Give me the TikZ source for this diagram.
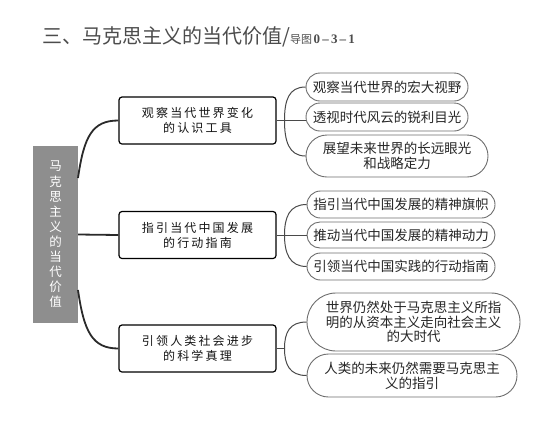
\documentclass[tikz,border=0pt]{standalone}
\usepackage{fontspec}
\usetikzlibrary{shapes.misc}
\newfontfamily\cjk{Noto Sans CJK SC}
\newfontfamily\cjkspaced[LetterSpace=18]{Noto Sans CJK SC}
\newfontfamily\serifb{Liberation Serif}[BoldFont={Liberation Serif Bold}]
\definecolor{linedark}{HTML}{2A2A2A}
\definecolor{pillborder}{HTML}{6E6E6E}
\definecolor{rootfill}{HTML}{8E8E8E}
\tikzset{
  rootbox/.style={draw=none, fill=rootfill, text=white, inner sep=0pt,
    minimum width=45pt, minimum height=177pt, align=center,
    font=\fontsize{12.5}{15.1}\selectfont\cjk},
  mainbox/.style={draw=black, line width=1.2pt, rounded corners=3pt, fill=white,
    minimum width=157pt, minimum height=47pt, inner sep=0pt, align=center,
    text=black!92, font=\fontsize{12}{15}\selectfont\cjkspaced},
  pill/.style={rounded rectangle, draw=pillborder, line width=0.9pt, fill=white,
    inner sep=0pt, align=center, text=black!85,
    font=\fontsize{13.5}{14.8}\selectfont\cjk},
  rootlink/.style={draw=linedark, line width=1.8pt},
  sublink/.style={draw=linedark!85, line width=1pt},
}
\begin{document}
\begin{tikzpicture}[x=1pt,y=-1pt]
\useasboundingbox (0,0) rectangle (554,424);
% title
\node[anchor=base west, inner sep=0pt, text=black!70] (title) at (42,43)
  {{\fontsize{20}{24}\selectfont\cjk 三、马克思主义的当代价值/}{\fontsize{11}{12}\selectfont\cjk 导图}\,{\fontsize{13}{14}\selectfont\serifb\bfseries 0\,–\,3\,–\,1}};
% root
\node[rootbox] (root) at (55.5,234.5) {马\\克\\思\\主\\义\\的\\当\\代\\价\\值};
% main boxes
\node[mainbox] (b1) at (197.5,120.5) {观察当代世界变化\\的认识工具};
\node[mainbox] (b2) at (197.5,235) {指引当代中国发展\\的行动指南};
\node[mainbox] (b3) at (197.5,348.5) {引领人类社会进步\\的科学真理};
% pills
\node[pill, minimum width=162pt, minimum height=28pt] (p1) at (387,87) {观察当代世界的宏大视野};
\node[pill, minimum width=162pt, minimum height=28pt] (p2) at (387,117) {透视时代风云的锐利目光};
\node[pill, minimum width=182pt, minimum height=42pt] (p3) at (397,156) {展望未来世界的长远眼光\\和战略定力};
\node[pill, minimum width=188pt, minimum height=27pt] (p4) at (401,204.5) {指引当代中国发展的精神旗帜};
\node[pill, minimum width=188pt, minimum height=26pt] (p5) at (401,235) {推动当代中国发展的精神动力};
\node[pill, minimum width=188pt, minimum height=27pt] (p6) at (401,266.5) {引领当代中国实践的行动指南};
\node[pill, minimum width=213pt, minimum height=58pt] (p7) at (413.5,322) {世界仍然处于马克思主义所指\\明的从资本主义走向社会主义\\的大时代};
\node[pill, minimum width=210pt, minimum height=43pt] (p8) at (412,375.5) {人类的未来仍然需要马克思主\\义的指引};
% root links
\coordinate (r1) at (78,178);
\coordinate (r3) at (78,290);
\draw[rootlink] (r1) .. controls +(6,-42) and +(-26,0) .. (b1.west);
\draw[rootlink] (root.east) -- (b2.west);
\draw[rootlink] (r3) .. controls +(6,42) and +(-26,0) .. (b3.west);
% sub links
\coordinate (j1) at (284.5,120.5);
\coordinate (j2) at (284.5,235);
\coordinate (j3) at (284.5,348.5);
\draw[sublink] (b1.east) -- (j1) -- (j1 -| p2.west);
\draw[sublink] (p1.west) .. controls +(-17,0) and +(0,-20) .. (j1) .. controls +(0,20) and +(-17,0) .. (p3.west);
\draw[sublink] (b2.east) -- (p5.west);
\draw[sublink] (p4.west) .. controls +(-17,0) and +(0,-18) .. (j2) .. controls +(0,18) and +(-17,0) .. (p6.west);
\draw[sublink] (b3.east) -- (j3);
\draw[sublink] (p7.west) .. controls +(-17,0) and +(0,-16) .. (j3) .. controls +(0,16) and +(-17,0) .. (p8.west);
\end{tikzpicture}
\end{document}
